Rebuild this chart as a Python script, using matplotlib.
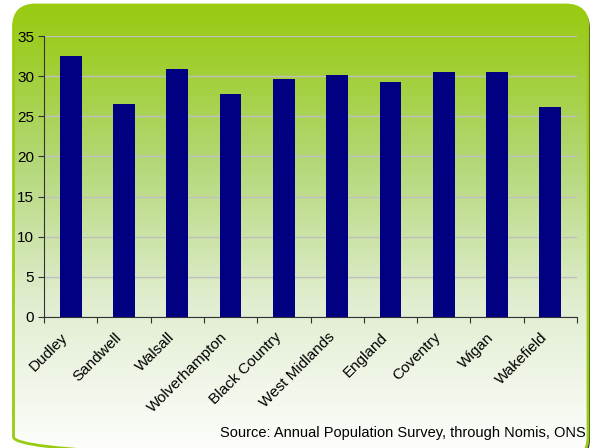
import numpy as np
import matplotlib
matplotlib.use("Agg")
import matplotlib.pyplot as plt
import matplotlib.transforms as mtransforms
from matplotlib.patches import FancyBboxPatch
from matplotlib.colors import LinearSegmentedColormap

plt.rcParams['font.family'] = ['Liberation Sans', 'DejaVu Sans']

# Data
areas = ["Dudley", "Sandwell", "Walsall", "Wolverhampton", "Black Country",
         "West Midlands", "England", "Coventry", "Wigan", "Wakefield"]
values = [32.5, 26.5, 30.9, 27.8, 29.6, 30.1, 29.3, 30.5, 30.5, 26.1]
yticks = [0, 5, 10, 15, 20, 25, 30, 35]
source = "Source: Annual Population Survey, through Nomis, ONS"

W, H = 590, 448
fig = plt.figure(figsize=(W / 100, H / 100), dpi=100)
fig.patch.set_facecolor("white")

# background panel: rounded box with green-to-white gradient
bg = fig.add_axes([0, 0, 1, 1], zorder=0)
bg.axis("off")
x0, y0, x1, y1 = 13.5, 5, 588, 459
shadow = FancyBboxPatch((x0 + 2, y0 + 2), x1 - x0, y1 - y0,
                        boxstyle="round,pad=0,rounding_size=22",
                        facecolor="#333333", edgecolor="none")
bg.add_patch(shadow)
box = FancyBboxPatch((x0, y0), x1 - x0, y1 - y0,
                     boxstyle="round,pad=0,rounding_size=22",
                     facecolor="none", edgecolor="#99CC11", linewidth=2)
bg.add_patch(box)
cmap = LinearSegmentedColormap.from_list(
    "g", [(0.0, "#99CB12"), (0.12, "#9FCE2E"), (0.35, "#B4D878"),
          (0.65, "#E0EDCF"), (1.0, "#FFFFFF")])
grad = np.linspace(0, 1, 256).reshape(-1, 1)
im = bg.imshow(grad, cmap=cmap, aspect="auto", extent=[x0, x1, y1, y0],
               origin="upper", zorder=1)
im.set_clip_path(box)
box.set_zorder(2)
bg.set_xlim(0, W)
bg.set_ylim(H, 0)

# chart
ax = fig.add_axes([44 / W, 1 - 317 / H, (577 - 44) / W, (317 - 36) / H], zorder=1)
ax.patch.set_alpha(0)
x = np.arange(len(areas))
ax.bar(x, values, width=0.41, color="#000080", zorder=3)
ax.set_xlim(-0.5, len(areas) - 0.5)
ax.set_ylim(0, 35)
ax.set_yticks(yticks)
ax.yaxis.grid(True, color="#BFBFBF", linewidth=1)
ax.set_axisbelow(True)
ax.set_xticks(np.arange(len(areas) + 1) - 0.5)
ax.set_xticklabels([])
ax.set_xticks(x, minor=True)
ax.set_xticklabels(areas, minor=True, rotation=45, ha="right", va="center",
                   rotation_mode="anchor", fontsize=11)
ax.tick_params(axis="x", which="minor", length=0, pad=13)
ax.tick_params(axis="x", which="major", length=4, color="#333333")
ax.tick_params(axis="y", length=4, color="#333333", labelsize=11, pad=3)
shift = mtransforms.ScaledTranslation(-5 / 100, 0, fig.dpi_scale_trans)
for lab in ax.get_xticklabels(minor=True):
    lab.set_transform(lab.get_transform() + shift)
for s in ["top", "right"]:
    ax.spines[s].set_visible(False)
for s in ["left", "bottom"]:
    ax.spines[s].set_color("#333333")

fig.text(586 / W, 1 - 433 / H, source, ha="right", va="center", fontsize=10.5)

fig.savefig("out.png", dpi=100)
